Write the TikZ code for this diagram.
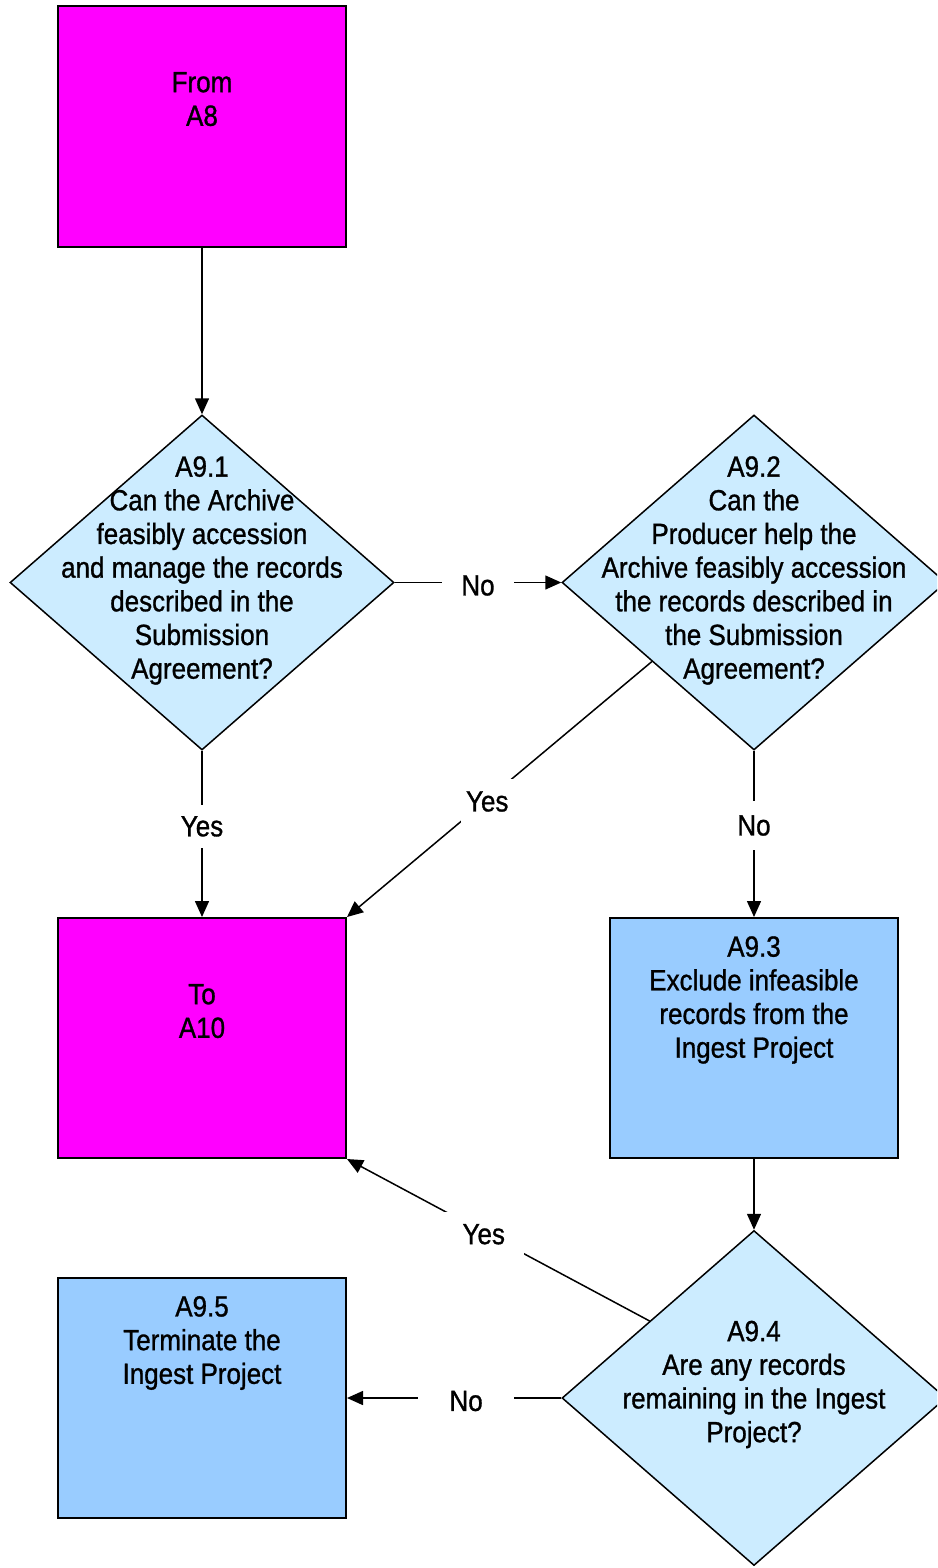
\documentclass[tikz,border=0pt]{standalone}
\usepackage{fontspec}
\setmainfont{Liberation Sans}[FakeStretch=0.89,FakeBold=1]
\usetikzlibrary{shapes.geometric,arrows.meta,calc}
\definecolor{termfill}{HTML}{FF00FF}
\definecolor{stepfill}{HTML}{99CCFF}
\definecolor{decisionfill}{HTML}{CCECFF}
\begin{document}
\begin{tikzpicture}[x=1pt,y=-1pt,
  every node/.style={font=\fontsize{29.2}{33.67}\selectfont},
  termbox/.style={draw, line width=2pt, fill=termfill, minimum width=288pt, minimum height=240pt, inner sep=0pt},
  stepbox/.style={draw, line width=2pt, fill=stepfill, minimum width=288pt, minimum height=240pt, inner sep=0pt},
  decision/.style={diamond, draw, line width=1.5pt, fill=decisionfill, minimum width=384pt, minimum height=335pt, inner sep=0pt},
  txt/.style={align=center, inner sep=0pt, execute at begin node=\strut, execute at end node=\strut},
  flow/.style={line width=1.5pt, -{Triangle[length=16pt,width=14pt]}},
  lbl/.style 2 args={fill=white, inner xsep=#1, inner ysep=#2}
]
\useasboundingbox (0,0) rectangle (937,1568);
\clip (0,0) rectangle (937,1568);

% boxes
\node[termbox] (fromA8) at (202,126.5) {};
\node[termbox] (toA10)  at (202,1038) {};
\node[stepbox] (a93)    at (754,1038) {};
\node[stepbox] (a95)    at (202,1398) {};

% decisions
\node[decision] (a91) at (202,582.5) {};
\node[decision] (a92) at (754,582.5) {};
\node[decision] (a94) at (754,1398) {};

% texts
\node[txt] (tFrom) at (202,104) {From\\A8};
\node[txt] (tTo)   at (202,1016) {To\\A10};
\node[txt] (t91) at (202,572.5) {A9.1\\Can the Archive\\feasibly accession\\and manage the records\\described in the\\Submission\\Agreement?};
\node[txt] (t92) at (754,572.5) {A9.2\\Can the\\Producer help the\\Archive feasibly accession\\the records described in\\the Submission\\Agreement?};
\node[txt] (t93) at (754,1002) {A9.3\\Exclude infeasible\\records from the\\Ingest Project};
\node[txt] (t94) at (754,1386.5) {A9.4\\Are any records\\remaining in the Ingest\\Project?};
\node[txt] (t95) at (202,1345) {A9.5\\Terminate the\\Ingest Project};

% side exits on the diamond edges
\coordinate (a92out) at ($(a92.west)!0.47!(a92.south)$);
\coordinate (a94out) at ($(a94.west)!0.458!(a94.north)$);

% connectors
\draw[flow] (fromA8.south) -- (a91.north);
\draw[flow] (a91.east) -- node[lbl={19.5pt}{8pt}, pos=0.5, yshift=-3pt] {No} (a92.west);
\draw[flow] (a91.south) -- node[lbl={8pt}{11pt}, pos=0.455] {Yes} (toA10.north);
\draw[flow] (a92out) -- node[lbl={5.5pt}{12.5pt}, pos=0.54, yshift=-2pt] {Yes} (toA10.north east);
\draw[flow] (a92.south) -- node[lbl={8pt}{14.5pt}, pos=0.45] {No} (a93.north);
\draw[flow] (a93.south) -- (a94.north);
\draw[flow] (a94out) -- node[lbl={19pt}{12pt}, pos=0.548, yshift=-2pt] {Yes} (toA10.south east);
\draw[flow] (a94.west) -- node[lbl={31.5pt}{8pt}, pos=0.444, yshift=-3pt] {No} (a95.east);
\end{tikzpicture}
\end{document}
